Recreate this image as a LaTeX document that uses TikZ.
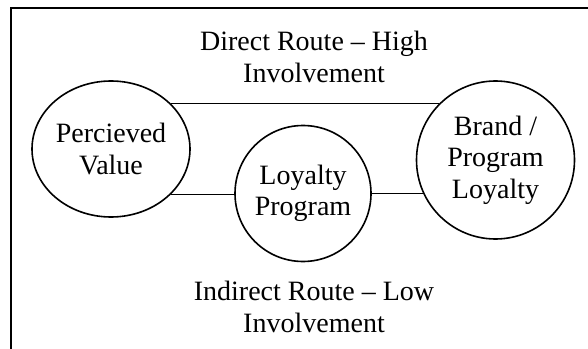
\documentclass[tikz,border=0pt]{standalone}
\usepackage{fontspec}
\setmainfont{Liberation Serif}
\usetikzlibrary{shapes.geometric}

\begin{document}
\begin{tikzpicture}[x=0.75pt, y=-0.75pt, line width=1.2pt,
	every node/.style={font=\fontsize{21}{23.5}\selectfont}]
				\useasboundingbox (0,0) rectangle (588,349);
				% frame
				\draw[line width=1.3pt] (11,349) -- (11,8) -- (588,8);
				\node[draw, ellipse, inner sep=0pt, minimum width=118.5pt, minimum height=102pt, label={[align=center]center:Percieved\\Value}] (PV)at(111, 149) {};
				\node[draw, circle, inner sep=0pt, minimum size=102pt, label={[align=center]center:Loyalty\\Program}] (LP)at(303, 193.5) {};
				\node[draw, circle, inner sep=0pt, minimum size=118.5pt, label={[align=center]center:Brand /\\Program\\Loyalty}] (BPL)at(495.5, 160) {};
				\node[align=center] (DR)at(314, 57) {Direct Route – High\\Involvement};
				\node[align=center] (IR)at(314, 307) {Indirect Route – Low\\Involvement};
				\draw[line width=1pt] (PV.37) -- (PV.37 -| BPL.135);
				\draw[line width=1pt] (PV.-37) -- (PV.-37 -| LP.west);
				\draw[line width=1pt] (LP.east) -- (LP.east -| BPL.205);
			\end{tikzpicture}
\end{document}
